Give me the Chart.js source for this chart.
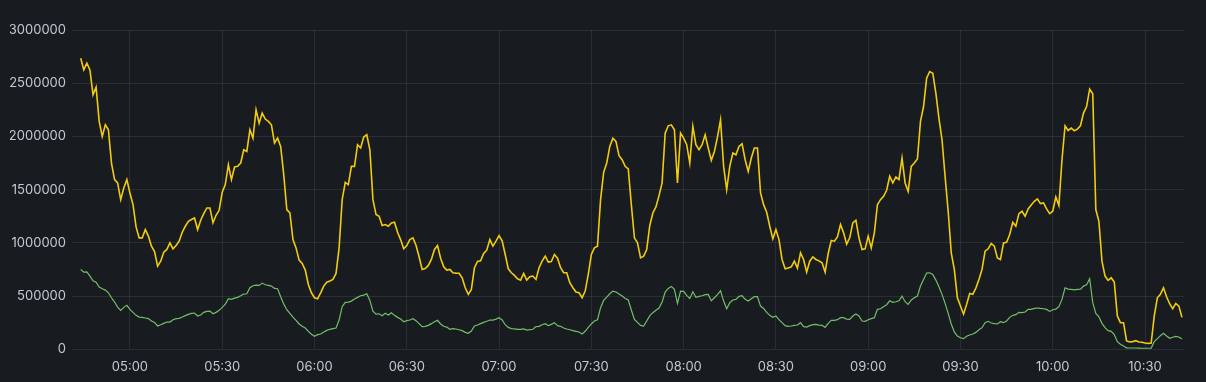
<!DOCTYPE html>
<html>
<head>
<meta charset="utf-8">
<script src="https://cdn.jsdelivr.net/npm/chart.js@4.4.1/dist/chart.umd.min.js"></script>
<style>
  html, body { margin: 0; padding: 0; background: #181b1f; }
  #wrap { width: 1206px; height: 382px; position: relative; }
</style>
</head>
<body>
<div id="wrap"><canvas id="c" width="1206" height="382"></canvas></div>
<script>
// time of each sample (HH:MM), one per minute
const times = [
 "04:44","04:45","04:46","04:47","04:48","04:49","04:50","04:51","04:52","04:53","04:54","04:55","04:56","04:57","04:58","04:59",
 "05:00","05:01","05:02","05:03","05:04","05:05","05:06","05:07","05:08","05:09","05:10","05:11","05:12","05:13","05:14","05:15","05:16","05:17","05:18","05:19",
 "05:20","05:21","05:22","05:23","05:24","05:25","05:26","05:27","05:28","05:29","05:30","05:31","05:32","05:33","05:34","05:35","05:36","05:37","05:38","05:39",
 "05:40","05:41","05:42","05:43","05:44","05:45","05:46","05:47","05:48","05:49","05:50","05:51","05:52","05:53","05:54","05:55","05:56","05:57","05:58","05:59",
 "06:00","06:01","06:02","06:03","06:04","06:05","06:06","06:07","06:08","06:09","06:10","06:11","06:12","06:13","06:14","06:15","06:16","06:17","06:18","06:19",
 "06:20","06:21","06:22","06:23","06:24","06:25","06:26","06:27","06:28","06:29","06:30","06:31","06:32","06:33","06:34","06:35","06:36","06:37","06:38","06:39",
 "06:40","06:41","06:42","06:43","06:44","06:45","06:46","06:47","06:48","06:49","06:50","06:51","06:52","06:53","06:54","06:55","06:56","06:57","06:58","06:59",
 "07:00","07:01","07:02","07:03","07:04","07:05","07:06","07:07","07:08","07:09","07:10","07:11","07:12","07:13","07:14","07:15","07:16","07:17","07:18","07:19",
 "07:20","07:21","07:22","07:23","07:24","07:25","07:26","07:27","07:28","07:29","07:30","07:31","07:32","07:33","07:34","07:35","07:36","07:37","07:38","07:39",
 "07:40","07:41","07:42","07:43","07:44","07:45","07:46","07:47","07:48","07:49","07:50","07:51","07:52","07:53","07:54","07:55","07:56","07:57","07:58","07:59",
 "08:00","08:01","08:02","08:03","08:04","08:05","08:06","08:07","08:08","08:09","08:10","08:11","08:12","08:13","08:14","08:15","08:16","08:17","08:18","08:19",
 "08:20","08:21","08:22","08:23","08:24","08:25","08:26","08:27","08:28","08:29","08:30","08:31","08:32","08:33","08:34","08:35","08:36","08:37","08:38","08:39",
 "08:40","08:41","08:42","08:43","08:44","08:45","08:46","08:47","08:48","08:49","08:50","08:51","08:52","08:53","08:54","08:55","08:56","08:57","08:58","08:59",
 "09:00","09:01","09:02","09:03","09:04","09:05","09:06","09:07","09:08","09:09","09:10","09:11","09:12","09:13","09:14","09:15","09:16","09:17","09:18","09:19",
 "09:20","09:21","09:22","09:23","09:24","09:25","09:26","09:27","09:28","09:29","09:30","09:31","09:32","09:33","09:34","09:35","09:36","09:37","09:38","09:39",
 "09:40","09:41","09:42","09:43","09:44","09:45","09:46","09:47","09:48","09:49","09:50","09:51","09:52","09:53","09:54","09:55","09:56","09:57","09:58","09:59",
 "10:00","10:01","10:02","10:03","10:04","10:05","10:06","10:07","10:08","10:09","10:10","10:11","10:12","10:13","10:14","10:15","10:16","10:17","10:18","10:19",
 "10:20","10:21","10:22","10:23","10:24","10:25","10:26","10:27","10:28","10:29","10:30","10:31","10:32","10:33","10:34","10:35","10:36","10:37","10:38","10:39",
 "10:40","10:41","10:42"
];

// yellow series
const seriesA = [
 2734000,2625000,2688000,2625000,2391000,2463000,2141000,2000000,2109000,2063000,1750000,1594000,1563000,1406000,1516000,1594000,
 1469000,1359000,1150000,1047000,1047000,1125000,1063000,969000,919000,781000,
 828000,913000,938000,1000000,944000,975000,1016000,1100000,1156000,1203000,
 1219000,1234000,1125000,1213000,1275000,1328000,1328000,1188000,1259000,1306000,
 1475000,1547000,1734000,1594000,1713000,1719000,1750000,1875000,1859000,2063000,
 1984000,2250000,2125000,2219000,2163000,2141000,2109000,1938000,1984000,1906000,
 1641000,1313000,1281000,1031000,953000,838000,806000,744000,609000,531000,
 484000,475000,531000,594000,631000,641000,656000,713000,953000,1406000,
 1569000,1547000,1719000,1719000,1922000,1891000,1994000,2016000,1875000,1406000,
 1266000,1250000,1163000,1172000,1156000,1188000,1194000,1100000,1031000,944000,
 975000,1031000,1047000,978000,869000,750000,759000,788000,844000,938000,
 975000,856000,775000,744000,750000,719000,716000,715000,672000,578000,
 516000,563000,766000,825000,831000,900000,931000,1031000,969000,1016000,
 1069000,1019000,891000,756000,719000,694000,663000,650000,713000,650000,
 681000,688000,656000,766000,828000,875000,819000,825000,891000,856000,
 766000,719000,719000,625000,578000,538000,531000,484000,547000,703000,
 891000,953000,969000,1406000,1663000,1750000,1906000,1984000,1953000,1819000,
 1781000,1719000,1694000,1359000,1047000,1000000,859000,875000,938000,1163000,
 1281000,1338000,1444000,1563000,2031000,2100000,2109000,2063000,1563000,2031000,
 1984000,1922000,1750000,2094000,1922000,1875000,1922000,2016000,1891000,1775000,
 1859000,1994000,2156000,1719000,1500000,1719000,1844000,1828000,1906000,1931000,
 1781000,1672000,1797000,1891000,1891000,1469000,1359000,1288000,1156000,1038000,
 1125000,1031000,844000,756000,763000,775000,828000,763000,906000,844000,
 725000,828000,869000,844000,831000,813000,725000,900000,1022000,1016000,
 1056000,1172000,1094000,988000,1047000,1188000,1213000,1047000,938000,944000,
 1063000,953000,1094000,1359000,1406000,1438000,1494000,1625000,1563000,1619000,
 1594000,1797000,1563000,1484000,1719000,1750000,1788000,2141000,2281000,2547000,
 2610000,2594000,2406000,2169000,1969000,1625000,1297000,906000,750000,484000,
 406000,330000,422000,525000,516000,575000,656000,750000,922000,944000,
 994000,969000,859000,844000,1000000,1006000,1078000,1194000,1156000,1275000,
 1297000,1250000,1319000,1356000,1391000,1413000,1369000,1375000,1319000,1275000,
 1297000,1431000,1350000,1781000,2100000,2056000,2078000,2053000,2069000,2100000,
 2219000,2281000,2444000,2400000,1313000,1203000,828000,688000,647000,672000,
 631000,313000,250000,250000,78000,69000,72000,81000,69000,66000,
 59000,56000,59000,313000,484000,516000,578000,494000,428000,381000,
 431000,406000,300000
];

// green series
const seriesB = [
 750000,725000,728000,688000,644000,631000,584000,569000,556000,531000,484000,444000,397000,366000,394000,413000,
 375000,347000,319000,303000,300000,294000,288000,266000,253000,219000,
 231000,244000,256000,256000,278000,288000,291000,303000,316000,328000,
 338000,341000,313000,322000,347000,356000,359000,334000,347000,366000,
 394000,425000,475000,469000,481000,488000,503000,519000,522000,578000,
 597000,603000,600000,622000,606000,600000,594000,572000,569000,494000,
 425000,372000,338000,303000,272000,238000,216000,200000,169000,141000,
 122000,138000,144000,163000,178000,188000,194000,200000,275000,400000,
 441000,444000,453000,472000,488000,503000,509000,522000,459000,359000,
 331000,334000,316000,338000,322000,344000,319000,300000,284000,259000,
 269000,275000,288000,269000,241000,213000,216000,225000,241000,259000,
 272000,238000,216000,209000,188000,194000,191000,184000,175000,159000,
 150000,172000,219000,228000,241000,253000,263000,275000,275000,284000,
 297000,275000,231000,206000,194000,191000,188000,188000,191000,181000,
 184000,188000,213000,216000,231000,241000,222000,234000,250000,222000,
 216000,200000,191000,184000,175000,169000,163000,144000,169000,206000,
 238000,266000,278000,391000,459000,491000,522000,547000,538000,519000,
 500000,478000,463000,369000,281000,253000,225000,219000,266000,316000,
 344000,366000,388000,444000,538000,572000,591000,563000,431000,547000,
 544000,506000,478000,541000,488000,497000,503000,513000,516000,456000,
 484000,513000,550000,453000,381000,438000,463000,469000,497000,503000,
 469000,453000,475000,494000,494000,406000,384000,347000,319000,300000,
 313000,278000,250000,222000,216000,219000,225000,228000,250000,213000,
 209000,222000,231000,234000,228000,225000,206000,244000,272000,272000,
 278000,297000,297000,284000,281000,313000,331000,313000,266000,263000,
 278000,288000,297000,375000,381000,400000,419000,456000,441000,447000,
 456000,500000,447000,422000,463000,484000,500000,594000,656000,716000,
 719000,703000,650000,588000,516000,431000,338000,238000,163000,125000,
 109000,100000,122000,134000,144000,159000,184000,203000,250000,263000,
 247000,241000,238000,259000,250000,266000,300000,319000,325000,347000,
 344000,350000,375000,375000,384000,388000,384000,381000,375000,356000,
 372000,378000,400000,469000,578000,566000,563000,559000,563000,566000,
 594000,606000,663000,438000,338000,306000,244000,203000,175000,169000,
 138000,72000,47000,31000,13000,12000,12000,12000,11000,10000,
 10000,10000,11000,72000,100000,128000,150000,125000,103000,113000,
 122000,116000,97000
];

const xTickLabels = ["05:00","05:30","06:00","06:30","07:00","07:30","08:00","08:30","09:00","09:30","10:00","10:30"];
const yTickValues = [0, 500000, 1000000, 1500000, 2000000, 2500000, 3000000];
const xRange = ["04:41:10", "10:42:40"];

function toMin(s) {
  const p = s.split(":").map(Number);
  return p[0] * 60 + p[1] + (p[2] || 0) / 60;
}
function fmt(m) {
  const h = Math.floor(m / 60), mm = Math.round(m - h * 60);
  return String(h).padStart(2, "0") + ":" + String(mm).padStart(2, "0");
}

const xs = times.map(toMin);
const ptsA = xs.map((x, i) => ({ x, y: seriesA[i] }));
const ptsB = xs.map((x, i) => ({ x, y: seriesB[i] }));

Chart.defaults.font.family = "Inter, 'Noto Sans', sans-serif";
Chart.defaults.font.size = 13;
Chart.defaults.color = "#c7c9d1";

const gridColor = "rgba(204,204,220,0.10)";

new Chart(document.getElementById("c"), {
  type: "line",
  data: {
    datasets: [
      { data: ptsB, borderColor: "#73BF69", borderWidth: 1.2, pointRadius: 0, tension: 0, fill: false },
      { data: ptsA, borderColor: "#F2CC0C", borderWidth: 1.6, pointRadius: 0, tension: 0, fill: false }
    ]
  },
  options: {
    responsive: false,
    animation: false,
    events: [],
    layout: { padding: { left: 10, right: 22, top: 30, bottom: 0 } },
    plugins: { legend: { display: false }, tooltip: { enabled: false } },
    scales: {
      x: {
        type: "linear",
        min: toMin(xRange[0]),
        max: toMin(xRange[1]),
        afterBuildTicks: (s) => { s.ticks = xTickLabels.map(l => ({ value: toMin(l) })); },
        afterFit: (s) => { s.height = 32.7; },
        ticks: { padding: 9.6, maxRotation: 0, autoSkip: false, callback: (v) => fmt(v) },
        grid: { color: gridColor, drawTicks: false },
        border: { display: false }
      },
      y: {
        min: 0,
        max: 3000000,
        afterBuildTicks: (s) => { s.ticks = yTickValues.map(v => ({ value: v })); },
        afterFit: (s) => { s.width = 62; },
        ticks: { padding: 6, callback: (v) => String(v) },
        grid: { color: gridColor, drawTicks: false },
        border: { display: false }
      }
    }
  }
});
</script>
</body>
</html>
